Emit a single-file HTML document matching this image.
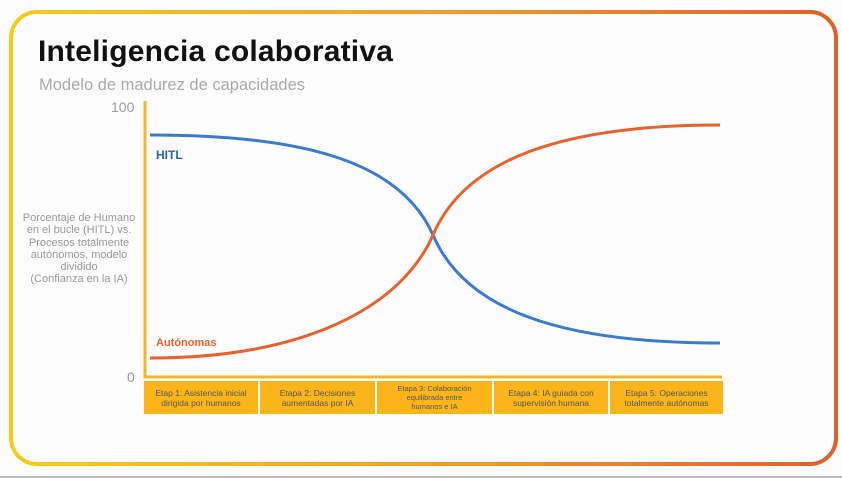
<!DOCTYPE html>
<html><head><meta charset="utf-8"><style>
body{margin:0;width:842px;height:478px;background:#fdfdfd;overflow:hidden;position:relative;font-family:"Liberation Sans",sans-serif}
.t{position:absolute;left:38px;top:35px;font-size:30px;font-weight:bold;color:#111;letter-spacing:0.2px}
.s{position:absolute;left:39px;top:76px;font-size:16.5px;color:#aaa}
.yl{position:absolute;left:4px;top:212px;width:150px;text-align:center;font-size:11px;line-height:12.3px;color:#999;white-space:nowrap}
.n{position:absolute;font-size:14px;color:#999}
.box{position:absolute;top:381px;height:33px;background:#fbb51a;font-size:8.5px;color:#555;text-align:center;display:flex;align-items:center;justify-content:center;line-height:10px}
</style></head><body>
<svg width="842" height="478" style="position:absolute;left:0;top:0">
<defs><linearGradient id="g" x1="0" x2="1"><stop offset="0" stop-color="#f5cc1c"/><stop offset="0.5" stop-color="#f0a030"/><stop offset="1" stop-color="#e0602a"/></linearGradient></defs>
<rect x="11" y="12" width="825" height="452" rx="26" fill="none" stroke="url(#g)" stroke-width="4"/>
<rect x="0" y="476" width="842" height="2" fill="#bbb"/>
<path d="M145,101 V377 H722" fill="none" stroke="#f0b830" stroke-width="3"/>
<path d="M150,135 C300,135 400,160 433,235 C465,310 560,343 720,343" fill="none" stroke="#3a7bd0" stroke-width="3"/>
<path d="M150,358 C300,358 400,310 433,235 C465,160 560,125 720,125" fill="none" stroke="#e8622e" stroke-width="3"/>
</svg>
<div class="t">Inteligencia colaborativa</div>
<div class="s">Modelo de madurez de capacidades</div>
<div class="n" style="left:111px;top:99px">100</div>
<div class="n" style="left:127px;top:369px">0</div>
<div class="yl">Porcentaje de Humano<br>en el bucle (HITL) vs.<br>Procesos totalmente<br>autónomos, modelo<br>dividido<br>(Confianza en la IA)</div>
<div style="position:absolute;left:156px;top:148px;font-size:12px;font-weight:bold;color:#2a62a8">HITL</div>
<div style="position:absolute;left:156px;top:337px;font-size:11px;font-weight:bold;color:#e8622e">Autónomas</div>
<div class="box" style="left:144px;width:114px">Etap 1: Asistencia inicial<br>dirigida por humanos</div>
<div class="box" style="left:260px;width:115px">Etapa 2: Decisiones<br>aumentadas por IA</div>
<div class="box" style="left:377px;width:115px;font-size:7.5px;line-height:9px">Etapa 3: Colaboración<br>equilibrada entre<br>humanos e IA</div>
<div class="box" style="left:494px;width:114px">Etapa 4: IA guiada con<br>supervisión humana</div>
<div class="box" style="left:610px;width:113px">Etapa 5: Operaciones<br>totalmente autónomas</div>
</body></html>
